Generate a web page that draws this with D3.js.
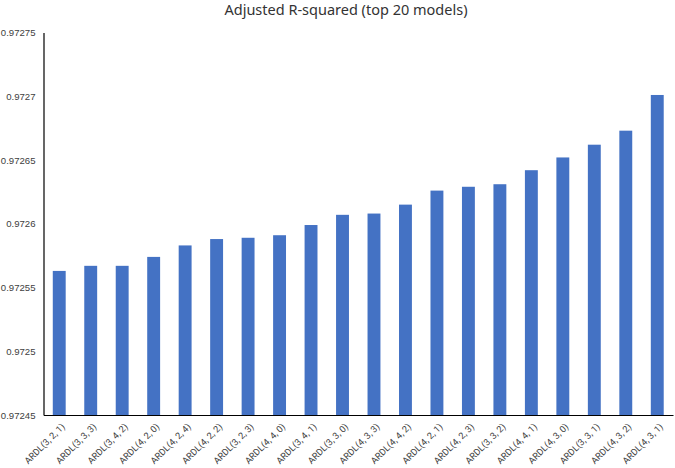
<!DOCTYPE html>
<html>
<head>
<meta charset="utf-8">
<script src="https://cdn.jsdelivr.net/npm/d3@7"></script>
<style>
  body { margin: 0; background: #fff; }
  svg { display: block; }
</style>
</head>
<body>
<svg id="chart" width="675" height="468"></svg>
<script>
const models = ["ARDL(3, 2, 1)", "ARDL(3, 3, 3)", "ARDL(3, 4, 2)", "ARDL(4, 2, 0)", "ARDL(4, 2, 4)",
  "ARDL(4, 2, 2)", "ARDL(3, 2, 3)", "ARDL(4, 4, 0)", "ARDL(3, 4, 1)", "ARDL(3, 3, 0)",
  "ARDL(4, 3, 3)", "ARDL(4, 4, 2)", "ARDL(4, 2, 1)", "ARDL(4, 2, 3)", "ARDL(3, 3, 2)",
  "ARDL(4, 4, 1)", "ARDL(4, 3, 0)", "ARDL(3, 3, 1)", "ARDL(4, 3, 2)", "ARDL(4, 3, 1)"];
const adjR2 = [0.972563, 0.972567, 0.972567, 0.972574, 0.972583,
  0.972588, 0.972589, 0.972591, 0.972599, 0.972607,
  0.972608, 0.972615, 0.972626, 0.972629, 0.972631,
  0.972642, 0.972652, 0.972662, 0.972673, 0.972701];
const yTicks = [0.97245, 0.9725, 0.97255, 0.9726, 0.97265, 0.9727, 0.97275];
const yTickLabels = ["0.97245", "0.9725", "0.97255", "0.9726", "0.97265", "0.9727", "0.97275"];
const title = "Adjusted R-squared (top 20 models)";

const svg = d3.select("#chart");
const margin = { left: 43.5, right: 2, top: 32.5, bottom: 53 };
const W = 675, H = 468;
const x = d3.scaleBand().domain(models).range([margin.left, W - margin.right]).paddingInner(0.59).paddingOuter(0.295);
const y = d3.scaleLinear().domain([0.97245, 0.97275]).range([H - margin.bottom, margin.top]);

svg.append("text")
  .attr("x", 346).attr("y", 15)
  .attr("text-anchor", "middle")
  .attr("font-family", "Noto Sans, Roboto, sans-serif")
  .attr("font-size", 14.5)
  .attr("fill", "#333")
  .text(title);

svg.append("g").selectAll("rect")
  .data(adjR2)
  .join("rect")
  .attr("x", (d, i) => x(models[i]))
  .attr("width", x.bandwidth())
  .attr("y", d => y(d))
  .attr("height", d => y(0.97245) - y(d))
  .attr("fill", "#4472C4");

const yAxis = d3.axisLeft(y).tickValues(yTicks).tickFormat((d, i) => yTickLabels[i]).tickSize(0).tickPadding(8);
const gy = svg.append("g").attr("transform", `translate(${margin.left},0)`).call(yAxis);
gy.select(".domain").attr("stroke", "#000").attr("stroke-width", 1.2);
gy.selectAll("text").attr("font-family", "Liberation Sans, Arial, sans-serif").attr("font-size", 9.6).attr("fill", "#404040");

const xAxis = d3.axisBottom(x).tickSize(0).tickPadding(0);
const gx = svg.append("g").attr("transform", `translate(0,${H - margin.bottom})`).call(xAxis);
gx.select(".domain").attr("stroke", "#000").attr("stroke-width", 1.2);
gx.selectAll("text")
  .attr("font-family", "Roboto, Liberation Sans, sans-serif")
  .attr("font-size", 9.2)
  .attr("fill", "#404040")
  .attr("text-anchor", "end")
  .attr("y", 0)
  .attr("dy", "0.35em")
  .attr("transform", "translate(4,10) rotate(-45)");
</script>
</body>
</html>
